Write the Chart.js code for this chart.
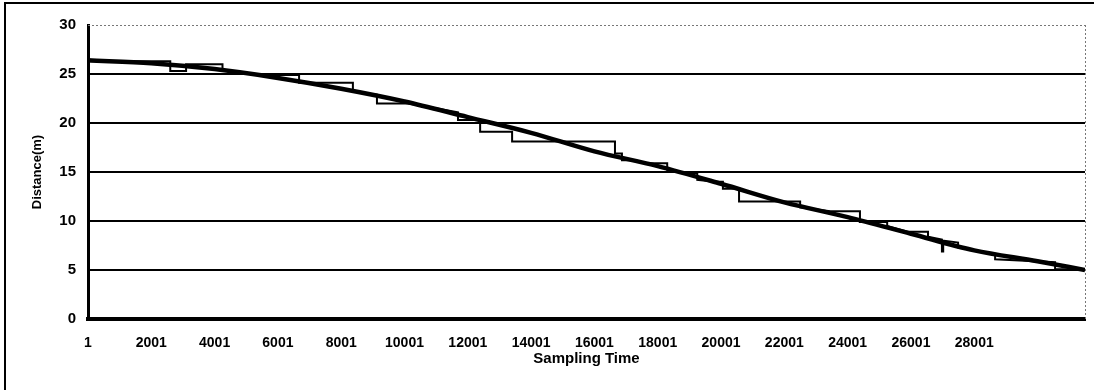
<!DOCTYPE html>
<html>
<head>
<meta charset="utf-8">
<script src="https://cdn.jsdelivr.net/npm/chart.js@4/dist/chart.umd.min.js"></script>
<style>
  html, body { margin: 0; padding: 0; background: #fff; }
  #wrap { width: 1094px; height: 390px; }
</style>
</head>
<body>
<div id="wrap"><canvas id="c" width="1094" height="390"></canvas></div>
<script>
// ---- data ----
const xTickValues = [1, 2001, 4001, 6001, 8001, 10001, 12001, 14001, 16001, 18001, 20001, 22001, 24001, 26001, 28001];
const yTickValues = [0, 5, 10, 15, 20, 25, 30];

// smooth (estimated) distance curve
const smoothX = [1, 2001, 4001, 6001, 8001, 10001, 12001, 14001, 16001, 18001, 20001, 22001, 24001, 26001, 28001, 30001, 31500];
const smoothY = [26.4, 26.1, 25.5, 24.6, 23.5, 22.2, 20.6, 19.0, 17.1, 15.6, 13.8, 11.9, 10.4, 8.7, 7.0, 5.9, 5.0];

// stepped (measured) distance trace
const stairX = [1, 2600, 2600, 3100, 3100, 4250, 4250, 5400, 6670, 6670, 8370, 8370, 9130, 9130, 10100, 10650, 11690, 11690, 12390, 12390, 13400, 13400, 16650, 16650, 16870, 16870, 17300, 17600, 18300, 18300, 18800, 19250, 19250, 19800, 20060, 20060, 20570, 20570, 22500, 22500, 23450, 24390, 24390, 25250, 25250, 25900, 26540, 26540, 26980, 26980, 27020, 27020, 27490, 27490, 28660, 28660, 30555, 30555, 31500];
const stairY = [26.3, 26.3, 25.3, 25.3, 26.0, 26.0, 25.4, 24.9, 24.9, 24.1, 24.1, 23.2, 22.9, 22.0, 22.0, 21.7, 21.1, 20.3, 20.3, 19.1, 19.1, 18.1, 18.1, 16.9, 16.9, 16.2, 16.2, 15.9, 15.9, 15.2, 14.9, 14.9, 14.2, 14.0, 14.0, 13.3, 13.3, 12.0, 12.0, 11.4, 11.0, 11.0, 9.9, 9.9, 9.5, 8.9, 8.9, 8.4, 8.1, 6.9, 6.9, 8.0, 7.8, 7.3, 6.6, 6.1, 5.8, 5.1, 5.0];

const xMin = 1, xMax = 31500, yMin = 0, yMax = 30;
const xTitle = 'Sampling Time';
const yTitle = 'Distance(m)';

// ---- build datasets ----
const smoothPts = smoothX.map((x, i) => ({ x: x, y: smoothY[i] }));
const stairPts = stairX.map((x, i) => ({ x: x, y: stairY[i] }));

const FONT = "'Liberation Sans', Arial, sans-serif";

const framePlugin = {
  id: 'frame',
  beforeDatasetsDraw(chart) {
    const { ctx, chartArea, scales } = chart;
    const yTop = scales.y.getPixelForValue(yMax);
    ctx.save();
    ctx.strokeStyle = '#777';
    ctx.lineWidth = 1;
    ctx.setLineDash([2, 2]);
    ctx.beginPath();
    ctx.moveTo(chartArea.left, Math.round(yTop) + 0.5);
    ctx.lineTo(chartArea.right, Math.round(yTop) + 0.5);
    ctx.moveTo(Math.round(chartArea.right) + 0.5, yTop);
    ctx.lineTo(Math.round(chartArea.right) + 0.5, chartArea.bottom);
    ctx.stroke();
    ctx.restore();
  },
  afterDraw(chart) {
    const { ctx } = chart;
    ctx.save();
    ctx.strokeStyle = '#000';
    ctx.lineWidth = 2;
    ctx.beginPath();
    ctx.moveTo(5, 390);
    ctx.lineTo(5, 3);
    ctx.lineTo(1094, 3);
    ctx.stroke();
    ctx.restore();
  }
};

new Chart(document.getElementById('c'), {
  type: 'line',
  data: {
    datasets: [
      {
        label: 'smooth',
        data: smoothPts,
        borderColor: '#000',
        borderWidth: 4.5,
        pointRadius: 0,
        cubicInterpolationMode: 'monotone',
        fill: false
      },
      {
        label: 'measured',
        data: stairPts,
        borderColor: '#000',
        borderWidth: 2,
        pointRadius: 0,
        tension: 0,
        fill: false
      }
    ]
  },
  options: {
    responsive: false,
    animation: false,
    devicePixelRatio: 1,
    layout: { padding: { left: 0, right: 9, top: 25, bottom: 0 } },
    plugins: {
      legend: { display: false },
      tooltip: { enabled: false }
    },
    scales: {
      x: {
        type: 'linear',
        min: xMin,
        max: xMax,
        afterBuildTicks(scale) { scale.ticks = xTickValues.map(v => ({ value: v })); },
        afterFit(scale) { scale.height = 71; scale.paddingLeft = 0; scale.paddingRight = 0; },
        grid: { display: false, drawTicks: false },
        border: { display: true, color: '#000', width: 4 },
        ticks: {
          autoSkip: false,
          maxRotation: 0,
          padding: 16,
          color: '#000',
          font: { family: FONT, size: 14, weight: 'bold' },
          callback: (v) => String(v)
        },
        title: {
          display: true,
          text: xTitle,
          color: '#000',
          font: { family: FONT, size: 15, weight: 'bold' },
          padding: { top: 0, bottom: 22 }
        }
      },
      y: {
        min: yMin,
        max: yMax,
        afterBuildTicks(scale) { scale.ticks = yTickValues.map(v => ({ value: v })); },
        afterFit(scale) { scale.width = 88; },
        grid: {
          drawTicks: false,
          color: (c) => (c.tick && c.tick.value === yMax) ? 'rgba(0,0,0,0)' : '#000',
          lineWidth: (c) => (c.tick && c.tick.value === 0) ? 4 : 2
        },
        border: { display: true, color: '#000', width: 3 },
        ticks: {
          padding: 12,
          color: '#000',
          font: { family: FONT, size: 15, weight: 'bold' }
        },
        title: {
          display: true,
          text: yTitle,
          color: '#000',
          font: { family: FONT, size: 13, weight: 'bold' },
          padding: { top: 30, bottom: 0 }
        }
      }
    }
  },
  plugins: [framePlugin]
});
</script>
</body>
</html>
